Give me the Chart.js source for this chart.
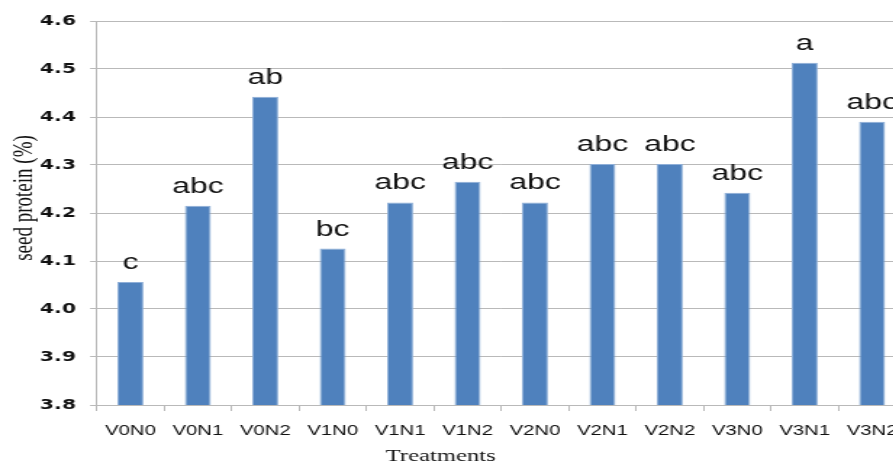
<!DOCTYPE html>
<html>
<head>
<meta charset="utf-8">
<script src="https://cdn.jsdelivr.net/npm/chart.js@4/dist/chart.umd.min.js"></script>
<style>
  html, body { margin: 0; padding: 0; background: #fff; overflow: hidden; }
  #wrap { width: 893px; height: 463px; overflow: hidden; position: relative; }
  /* the chart is drawn narrow and widened, giving the broad lettering */
  #c { display: block; transform: scaleX(1.45); transform-origin: 0 0; }
</style>
</head>
<body>
<div id="wrap"><canvas id="c" width="631" height="463"></canvas></div>
<script>
// Treatments (variety V x nitrogen N)
const treatments = ['V0N0', 'V0N1', 'V0N2', 'V1N0', 'V1N1', 'V1N2',
                    'V2N0', 'V2N1', 'V2N2', 'V3N0', 'V3N1', 'V3N2'];
// Seed protein (%)
const seedProtein = [4.056, 4.215, 4.442, 4.126, 4.222, 4.265,
                     4.222, 4.302, 4.302, 4.242, 4.513, 4.390];
// Mean separation letters
const groupLetters = ['c', 'abc', 'ab', 'bc', 'abc', 'abc',
                      'abc', 'abc', 'abc', 'abc', 'a', 'abc'];
// Value axis
const yMin = 3.8, yMax = 4.6, yStep = 0.1;

const GRID = '#b9b9b9';
const TEXT = '#111111';

const letterPlugin = {
  id: 'letters',
  afterDatasetsDraw(chart) {
    const ctx = chart.ctx;
    const meta = chart.getDatasetMeta(0);
    ctx.save();
    ctx.fillStyle = TEXT;
    ctx.font = '22px "Liberation Sans", Arial, sans-serif';
    ctx.textAlign = 'center';
    ctx.textBaseline = 'alphabetic';
    meta.data.forEach((bar, i) => {
      ctx.fillText(groupLetters[i], bar.x, bar.y - 13);
    });
    ctx.restore();
  }
};

const axisTitlePlugin = {
  id: 'axisTitles',
  afterDraw(chart) {
    const ctx = chart.ctx;
    ctx.save();
    ctx.fillStyle = TEXT;
    ctx.font = '17px "Liberation Serif", "Times New Roman", serif';
    ctx.textAlign = 'center';
    ctx.textBaseline = 'alphabetic';
    ctx.fillText('Treatments', 304, 461);
    ctx.translate(17, 198);
    ctx.rotate(-Math.PI / 2);
    ctx.font = '19px "Liberation Serif", "Times New Roman", serif';
    ctx.textBaseline = 'middle';
    ctx.fillText('seed protein (%)', 0, 0);
    ctx.restore();
  }
};

new Chart(document.getElementById('c'), {
  type: 'bar',
  data: {
    labels: treatments,
    datasets: [{
      data: seedProtein,
      backgroundColor: '#4F81BD',
      borderColor: '#8FAFD8',
      borderWidth: 1,
      borderSkipped: 'bottom',
      barPercentage: 0.386,
      categoryPercentage: 1.0
    }]
  },
  options: {
    responsive: false,
    animation: false,
    devicePixelRatio: 1,
    layout: { padding: { top: 21, right: 1, bottom: 0, left: 0 } },
    plugins: { legend: { display: false }, tooltip: { enabled: false }, title: { display: false } },
    scales: {
      x: {
        grid: { display: true, offset: true, drawOnChartArea: false, drawTicks: true,
                tickLength: 6, color: GRID },
        border: { display: true, color: GRID },
        ticks: { color: TEXT, padding: 12, maxRotation: 0, autoSkip: false,
                 font: { family: '"Liberation Sans", Arial, sans-serif', size: 14 } },
        afterFit(scale) { scale.height = 58; }
      },
      y: {
        min: yMin, max: yMax,
        grid: { color: GRID, tickLength: 4.6, drawTicks: true },
        border: { display: true, color: GRID },
        ticks: { stepSize: yStep, color: TEXT, padding: 9.7,
                 font: { family: '"DejaVu Sans", sans-serif', size: 14, weight: 'bold' },
                 callback: v => Number(v).toFixed(1) },
        afterFit(scale) { scale.width = 66.7; }
      }
    }
  },
  plugins: [letterPlugin, axisTitlePlugin]
});
</script>
</body>
</html>
